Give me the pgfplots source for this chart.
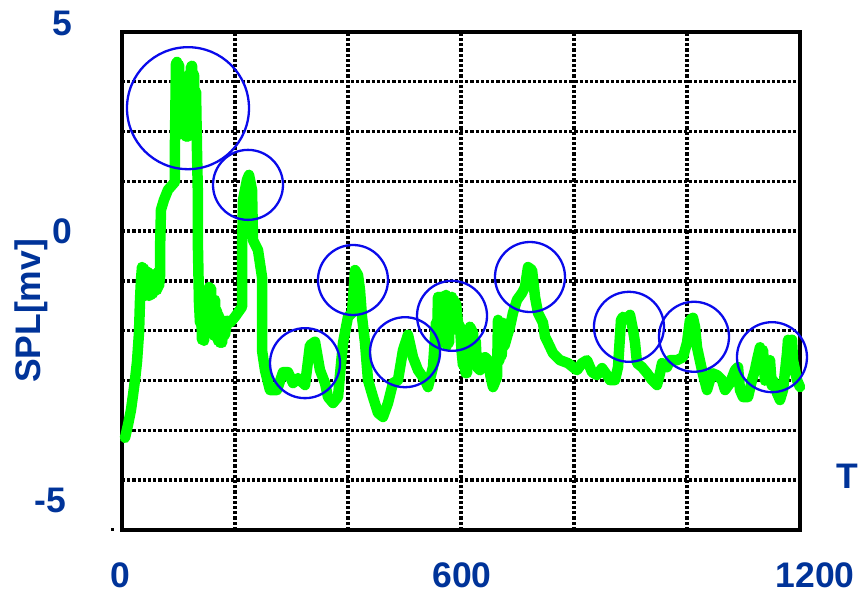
\documentclass[border=0pt]{standalone}
\usepackage{fontspec}
\setmainfont{Liberation Sans}
\usepackage{pgfplots}
\pgfplotsset{compat=1.18}
\definecolor{lblue}{RGB}{0,51,153}
\definecolor{lgreen}{RGB}{0,255,0}
\definecolor{cblue}{RGB}{10,10,235}
\begin{document}
\begin{tikzpicture}[x=1pt,y=1pt]
\useasboundingbox (0pt,0pt) rectangle (859pt,593pt);
\begin{axis}[
  at={(122pt,63pt)}, anchor=south west,
  scale only axis, width=678pt, height=498pt,
  xmin=0, xmax=1200, ymin=-5, ymax=5,
  xtick={0,200,...,1200}, ytick={-5,-4,...,5},
  xticklabels={}, yticklabels={},
  grid=major,
  major grid style={black, line width=3.4pt, dash pattern=on 3.2pt off 2pt},
  axis line style={black, line width=4pt},
  tick style={draw=none},
  clip=false,
]
\addplot[only marks, mark=o, cblue, mark size=61pt, mark options={line width=2.3pt}]
  coordinates {(116.8,3.47)};
\addplot[only marks, mark=o, cblue, mark size=35pt, mark options={line width=2.3pt}]
  coordinates {(223.0,1.93) (323.9,-1.65) (408.8,0.02) (500.9,-1.43) (584.1,-0.70)
               (722.1,0.08) (897.3,-0.92) (1012.4,-1.12) (1150.4,-1.53)};
\addplot[draw=lgreen, line width=10.5pt, line join=round, line cap=round] coordinates {
(5.3,-3.15) (10.6,-2.89) (15.9,-2.59) (19.5,-2.29) (23.0,-1.99) (26.5,-1.63)
(30.1,-1.04) (31.9,-0.38) (33.6,0.02) (35.4,0.28) (37.2,-0.28) (39.0,0.25)
(40.7,-0.30) (42.5,0.20) (44.2,-0.25) (46.0,0.18) (47.8,-0.30) (49.6,0.15)
(51.3,-0.28) (53.1,0.12) (54.9,-0.25) (56.6,0.12) (58.4,-0.20) (60.2,0.15)
(62.0,-0.18) (63.7,0.18) (65.5,-0.10) (67.3,0.10) (67.3,0.62)
(69.0,1.43) (74.3,1.63) (81.4,1.83) (93.8,1.99) (93.8,2.83) (95.5,4.36)
(97.3,4.40) (99.0,3.10) (100.9,4.34) (102.7,2.95) (104.4,4.05) (106.2,2.95)
(108.0,3.90) (109.7,2.95) (111.5,3.94) (113.3,2.90) (115.0,4.04) (116.8,2.90)
(118.6,4.15) (120.4,3.00) (122.1,4.30) (123.9,4.32) (125.7,3.10) (127.4,4.15)
(129.2,3.00) (131.0,3.80) (132.7,2.63) (134.5,1.63) (134.5,0.62) (136.3,-0.44)
(138.1,-0.84) (139.9,-0.40) (141.6,-1.18) (143.4,-0.60) (145.2,-1.20) (147.0,-0.40)
(148.7,-1.00) (150.5,-0.20) (152.3,-0.90) (154.0,-0.12) (155.8,-0.80) (157.6,-0.15)
(159.3,-1.00) (161.1,-0.40) (162.9,-1.10) (164.6,-0.38) (166.4,-1.00) (168.1,-0.60)
(169.9,-1.20) (171.7,-0.70) (173.5,-1.24) (175.2,-0.80) (177.0,-1.24) (179.9,-0.90)
(182.3,-1.08) (186.0,-0.80) (191.2,-0.84) (200.0,-0.72) (212.4,-0.52)
(212.4,0.62) (214.2,1.63) (221.2,2.03) (224.8,2.13) (230.1,1.83) (231.9,0.82)
(240.7,0.62) (247.8,0.08) (247.8,-1.39) (253.1,-1.79) (261.9,-2.19) (274.3,-2.19)
(285.0,-1.83) (293.8,-1.83) (302.7,-2.05) (311.5,-1.95) (323.9,-2.09) (332.7,-1.29)
(341.6,-1.22) (350.4,-1.79) (359.3,-2.05) (364.6,-2.33) (373.5,-2.45) (382.3,-2.33)
(385.8,-1.89) (391.2,-1.24) (400.0,-0.72) (407.1,-0.64) (412.4,0.22) (417.7,0.12)
(421.2,-0.18) (424.8,-0.72) (430.1,-1.24) (435.4,-1.99) (444.2,-2.33) (453.1,-2.65)
(461.9,-2.73) (470.8,-2.45) (479.6,-2.05) (488.5,-1.99) (497.3,-1.39) (506.2,-1.08)
(515.0,-1.53) (523.9,-1.79) (536.3,-1.99) (541.6,-2.13) (550.4,-1.73) (555.7,-0.84)
(557.5,-1.20) (559.3,-0.32) (561.0,-1.10) (562.8,-0.32) (564.6,-1.24) (566.3,-0.40)
(568.1,-1.20) (569.9,-0.30) (571.7,-1.00) (573.5,-0.28) (575.2,-1.30) (577.0,-0.40)
(578.8,-1.24) (580.6,-0.35) (582.3,-1.00) (584.1,-0.32) (585.9,-0.90) (587.6,-0.38)
(589.4,-0.90) (591.2,-0.45) (594.7,-0.84) (598.2,-0.92) (601.0,-1.40) (603.5,-1.69) (606.0,-1.20)
(608.0,-1.85) (610.6,-1.85) (613.0,-1.20) (615.9,-0.92) (621.2,-1.04)
(624.0,-1.60) (626.0,-1.20) (628.3,-1.73) (633.6,-1.79) (642.5,-1.53) (647.8,-1.59) (652.0,-1.90) (656.6,-2.13) (663.7,-1.93)
(665.5,-0.78) (668.0,-1.60) (670.0,-0.90) (672.0,-1.50) (674.3,-0.84) (677.0,-1.30) (681.4,-1.12) (686.7,-0.92) (692.0,-0.64) (699.1,-0.38)
(708.0,-0.24) (713.3,-0.12) (718.6,0.28) (725.7,0.22) (731.0,-0.32) (736.3,-0.64)
(745.1,-0.84) (748.7,-1.12) (754.0,-1.24) (762.8,-1.45) (775.2,-1.59) (789.4,-1.65)
(798.2,-1.73) (805.3,-1.79) (814.2,-1.65) (823.0,-1.59) (831.9,-1.83) (840.7,-1.89)
(849.6,-1.75) (858.4,-1.89) (863.7,-1.99) (872.6,-1.99) (877.9,-1.73) (883.2,-0.78)
(886.7,-0.72) (893.8,-0.78) (899.1,-0.68) (904.4,-0.98) (908.0,-1.24) (911.5,-1.65)
(920.4,-1.73) (929.2,-1.85) (938.1,-1.99) (946.9,-2.09) (952.2,-1.85) (955.8,-1.65)
(964.6,-1.73) (969.9,-1.59) (982.3,-1.59) (992.9,-1.53) (1000.0,-1.24) (1005.3,-0.78)
(1010.6,-0.74) (1014.2,-0.92) (1017.7,-1.33) (1026.5,-1.79) (1035.4,-2.19) (1044.2,-1.85)
(1053.1,-1.89) (1061.9,-1.99) (1067.3,-2.19) (1076.1,-2.05) (1085.0,-1.79) (1090.3,-1.73)
(1093.8,-2.19) (1099.1,-2.33) (1108.0,-2.33) (1115.0,-1.99) (1120.0,-1.80) (1123.9,-1.59) (1129.2,-1.33)
(1132.0,-1.80) (1134.5,-1.39) (1138.0,-2.00) (1141.6,-1.79) (1146.9,-1.59) (1150.0,-2.10) (1152.2,-1.99) (1159.3,-2.25) (1164.6,-2.39)
(1169.9,-2.19) (1177.0,-1.45) (1178.8,-1.18) (1181.0,-1.80) (1183.5,-1.20) (1185.8,-1.18) (1187.6,-1.59) (1191.2,-1.79)
(1194.7,-1.99) (1200.0,-2.13)
};
\end{axis}
\fill[black] (110.5pt,61.5pt) rectangle (113.5pt,64.5pt);
\begin{scope}[every node/.style={inner sep=0pt, text=lblue, font=\fontsize{35.5}{40}\selectfont\bfseries}]
\node at (62pt,570pt) {5};
\node at (62pt,362pt) {0};
\node at (50pt,93pt) {-5};
\node at (120pt,18pt) {0};
\node at (462pt,18pt) {600};
\node at (815pt,18pt) {1200};
\node[anchor=east] at (858pt,117pt) {T};
\node[rotate=90] at (31pt,282pt) {SPL[mv]};
\end{scope}
\end{tikzpicture}
\end{document}
